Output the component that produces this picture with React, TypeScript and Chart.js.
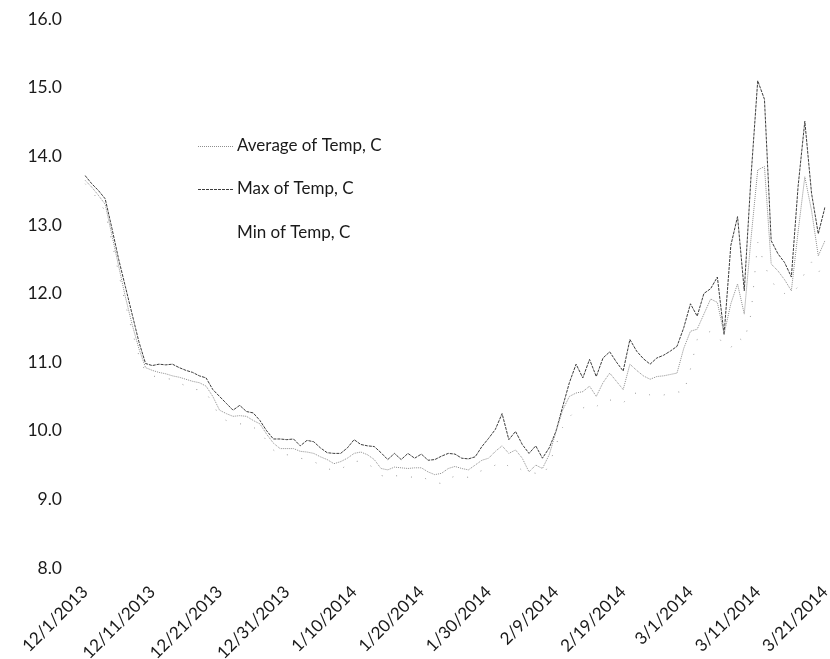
import React, { useEffect, useRef } from 'react';
import { Chart, registerables } from 'chart.js';

Chart.register(...registerables);

// Daily categories 12/1/2013 .. 3/21/2014
const monthLengths = [
  { m: 12, y: 2013, from: 1, to: 31 },
  { m: 1, y: 2014, from: 1, to: 31 },
  { m: 2, y: 2014, from: 1, to: 28 },
  { m: 3, y: 2014, from: 1, to: 21 },
];
const categories: string[] = [];
monthLengths.forEach((s) => {
  for (let d = s.from; d <= s.to; d++) categories.push(`${s.m}/${d}/${s.y}`);
});

const tickLabels = [
  '12/1/2013', '12/11/2013', '12/21/2013', '12/31/2013', '1/10/2014', '1/20/2014',
  '1/30/2014', '2/9/2014', '2/19/2014', '3/1/2014', '3/11/2014', '3/21/2014',
];

const avgTemp = [
  13.65, 13.55, 13.43, 13.3, 12.85, 12.4, 11.95, 11.55, 11.2, 10.92,
  10.88, 10.85, 10.83, 10.8, 10.78, 10.75, 10.72, 10.7, 10.65, 10.5,
  10.3, 10.25, 10.21, 10.22, 10.21, 10.15, 10.1, 9.95, 9.82, 9.74,
  9.74, 9.74, 9.7, 9.69, 9.67, 9.62, 9.58, 9.52, 9.55, 9.6,
  9.67, 9.69, 9.65, 9.58, 9.45, 9.43, 9.47, 9.46, 9.45, 9.46,
  9.46, 9.4, 9.36, 9.38, 9.45, 9.48, 9.45, 9.43, 9.5, 9.57,
  9.6, 9.7, 9.78, 9.67, 9.72, 9.6, 9.4, 9.5, 9.45, 9.65,
  9.98, 10.3, 10.5, 10.55, 10.57, 10.65, 10.5, 10.7, 10.84, 10.72,
  10.6, 10.97, 10.88, 10.8, 10.75, 10.79, 10.8, 10.82, 10.84, 11.2,
  11.45, 11.48, 11.7, 11.92, 11.87, 11.41, 11.85, 12.14, 11.7, 12.8,
  13.8, 13.85, 12.43, 12.33, 12.2, 12.04, 12.9, 13.7, 13.21, 12.55,
  12.77,
];

const maxTemp = [
  13.72, 13.6, 13.5, 13.38, 12.95, 12.5, 12.1, 11.7, 11.3, 10.98,
  10.95, 10.97, 10.96, 10.97, 10.92, 10.88, 10.85, 10.8, 10.77, 10.6,
  10.5, 10.4, 10.3, 10.37, 10.28, 10.26, 10.15, 10.0, 9.88, 9.88,
  9.87, 9.88, 9.78, 9.86, 9.84, 9.75, 9.68, 9.67, 9.67, 9.75,
  9.87, 9.8, 9.78, 9.77, 9.68, 9.58, 9.67, 9.58, 9.67, 9.6,
  9.66, 9.57, 9.58, 9.63, 9.67, 9.66, 9.6, 9.59, 9.62, 9.77,
  9.89, 10.02, 10.25, 9.87, 9.99, 9.8, 9.67, 9.78, 9.6, 9.75,
  9.99, 10.35, 10.7, 10.97, 10.77, 11.04, 10.79, 11.06, 11.15, 11.0,
  10.87, 11.33, 11.16, 11.05, 10.97, 11.06, 11.1, 11.16, 11.23, 11.5,
  11.85, 11.67, 12.0, 12.07, 12.24, 11.4, 12.7, 13.12, 12.04, 13.7,
  15.1, 14.83, 12.77, 12.58, 12.45, 12.24, 13.56, 14.51, 13.46, 12.87,
  13.26,
];

const minTemp = [
  13.6, 13.5, 13.35, 13.2, 12.75, 12.3, 11.85, 11.45, 11.1, 10.85,
  10.8, 10.78, 10.76, 10.75, 10.7, 10.65, 10.6, 10.6, 10.55, 10.4,
  10.2, 10.15, 10.12, 10.1, 10.1, 10.05, 10.0, 9.85, 9.72, 9.65,
  9.65, 9.64, 9.6, 9.58, 9.55, 9.5, 9.45, 9.42, 9.44, 9.5,
  9.55, 9.56, 9.52, 9.45, 9.35, 9.32, 9.35, 9.33, 9.32, 9.33,
  9.34, 9.28, 9.25, 9.23, 9.3, 9.34, 9.34, 9.32, 9.38, 9.42,
  9.45, 9.5, 9.55, 9.48, 9.5, 9.42, 9.4, 9.38, 9.35, 9.5,
  9.79, 10.05, 10.2, 10.3, 10.33, 10.38, 10.35, 10.43, 10.45, 10.42,
  10.4, 10.53, 10.55, 10.57, 10.52, 10.5, 10.52, 10.55, 10.57, 10.55,
  10.9, 11.33, 11.4, 11.45, 11.4, 11.23, 11.21, 11.36, 11.3, 11.7,
  12.75, 12.41, 12.2, 12.04, 12.0, 11.99, 12.1, 12.3, 12.46, 12.3,
  12.46,
];

const seriesNames = ['Average of Temp, C', 'Max of Temp, C', 'Min of Temp, C'];

const FONT = 'Lato, "Open Sans", sans-serif';

const legendPlugin = {
  id: 'insideLegend',
  afterDraw(chart: any) {
    const ctx = chart.ctx;
    const items = [
      { text: seriesNames[0], y: 146, color: '#8e8e8e', dash: [1, 1], show: true },
      { text: seriesNames[1], y: 189, color: '#3c3c3c', dash: [3, 1], show: true },
      { text: seriesNames[2], y: 233, color: '#d8d8d8', dash: [1, 12], show: false },
    ];
    ctx.save();
    items.forEach((it) => {
      if (it.show) {
        ctx.beginPath();
        ctx.setLineDash(it.dash);
        ctx.strokeStyle = it.color;
        ctx.lineWidth = 1;
        ctx.moveTo(198, it.y + 0.5);
        ctx.lineTo(234, it.y + 0.5);
        ctx.stroke();
      }
      ctx.setLineDash([]);
      ctx.fillStyle = '#1a1a1a';
      ctx.font = `17px ${FONT}`;
      ctx.textAlign = 'left';
      ctx.textBaseline = 'middle';
      ctx.fillText(it.text, 237, it.y);
    });
    ctx.restore();
  },
};

export default function App() {
  const canvasRef = useRef<HTMLCanvasElement | null>(null);

  useEffect(() => {
    if (!canvasRef.current) return;
    const chart = new Chart(canvasRef.current, {
      type: 'line',
      data: {
        labels: categories,
        datasets: [
          {
            label: seriesNames[0],
            data: avgTemp,
            borderColor: '#8e8e8e',
            borderWidth: 1,
            borderDash: [1, 1],
            pointRadius: 0,
            tension: 0,
          },
          {
            label: seriesNames[1],
            data: maxTemp,
            borderColor: '#3c3c3c',
            borderWidth: 1,
            borderDash: [3, 1],
            pointRadius: 0,
            tension: 0,
          },
          {
            label: seriesNames[2],
            data: minTemp,
            borderColor: '#9a9a9a',
            borderWidth: 1,
            borderDash: [1, 14],
            pointRadius: 0,
            tension: 0,
          },
        ],
      },
      options: {
        animation: false,
        responsive: true,
        maintainAspectRatio: false,
        layout: { padding: { top: 19, right: 5, left: 0, bottom: 0 } },
        plugins: {
          legend: { display: false },
          tooltip: { enabled: false },
        },
        scales: {
          x: {
            type: 'category',
            offset: false,
            grid: { display: false, drawTicks: false },
            border: { display: false },
            afterFit: (scale: any) => {
              scale.height = 91;
              scale.paddingLeft = 0;
              scale.paddingRight = 0;
            },
            ticks: {
              autoSkip: false,
              minRotation: 45,
              maxRotation: 45,
              padding: 14,
              color: '#1a1a1a',
              font: { family: FONT, size: 17 },
              callback: (_v: any, i: number) => (i % 10 === 0 ? tickLabels[i / 10] : ''),
            },
          },
          y: {
            min: 8,
            max: 16,
            grid: { display: false, drawTicks: false },
            border: { display: false },
            afterFit: (scale: any) => {
              scale.width = 85;
              scale.paddingTop = 0;
              scale.paddingBottom = 0;
            },
            ticks: {
              stepSize: 1,
              padding: 23,
              color: '#1a1a1a',
              font: { family: FONT, size: 17.5 },
              callback: (v: any) => Number(v).toFixed(1),
            },
          },
        },
      },
      plugins: [legendPlugin],
    });
    return () => chart.destroy();
  }, []);

  return (
    <div style={{ position: 'absolute', left: 0, top: 0, width: 830, height: 659, background: '#fff' }}>
      <canvas ref={canvasRef} />
    </div>
  );
}
